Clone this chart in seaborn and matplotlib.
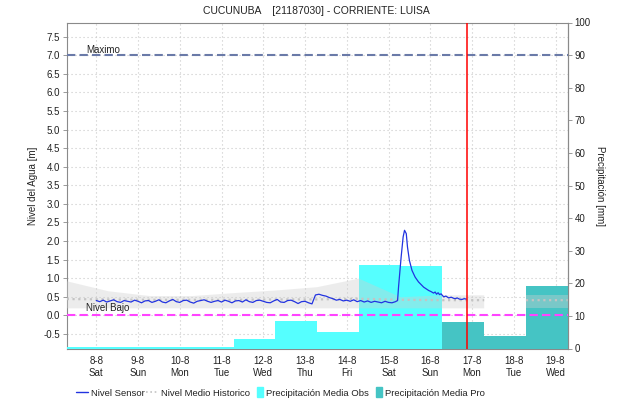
import numpy as np
import pandas as pd
import matplotlib
matplotlib.use("Agg")
import matplotlib.pyplot as plt
import matplotlib.dates as mdates
import matplotlib.patches as mpatches
from matplotlib.lines import Line2D
from matplotlib.legend_handler import HandlerPatch
from matplotlib.ticker import FuncFormatter, FormatStrFormatter
import seaborn as sns

sns.set_style("white")
plt.rcParams["font.family"] = ["Liberation Sans", "DejaVu Sans"]

title = "CUCUNUBA    [21187030] - CORRIENTE: LUISA"

# Daily precipitation, each bar covers 07:00 -> 07:00 of the next day [mm]
obs_start = ["2020-08-07 07:00", "2020-08-08 07:00", "2020-08-09 07:00",
             "2020-08-10 07:00", "2020-08-11 07:00", "2020-08-12 07:00",
             "2020-08-13 07:00", "2020-08-14 07:00", "2020-08-15 07:00"]
obs_mm = [0.4, 0.6, 0.6, 0.6, 3.0, 8.5, 5.1, 25.7, 25.2]
pro_start = ["2020-08-16 07:00", "2020-08-17 07:00", "2020-08-18 07:00"]
pro_mm = [8.2, 3.8, 19.2]

# Water level from the sensor [m]: 2-hourly record from 08-08 00:00,
# then the flood wave of 15-08 at its own timestamps
sensor_start = "2020-08-08 00:00"
sensor_regular = [
    0.40, 0.37, 0.41, 0.36, 0.39, 0.42, 0.37, 0.35, 0.40, 0.38, 0.36, 0.41,
    0.38, 0.34, 0.39, 0.40, 0.35, 0.38, 0.42, 0.36, 0.34, 0.39, 0.43, 0.37,
    0.35, 0.40, 0.41, 0.36, 0.33, 0.38, 0.40, 0.42, 0.38, 0.35, 0.38, 0.40,
    0.36, 0.41, 0.38, 0.34, 0.39, 0.40, 0.36, 0.42, 0.37, 0.35, 0.40, 0.41,
    0.38, 0.35, 0.34, 0.39, 0.43, 0.36, 0.35, 0.40, 0.41, 0.37, 0.32, 0.37,
    0.38, 0.34, 0.31, 0.55, 0.57, 0.54, 0.52, 0.48, 0.45, 0.41, 0.43, 0.39,
    0.41, 0.38, 0.42, 0.37, 0.40, 0.36, 0.39, 0.35, 0.38, 0.36, 0.34, 0.38,
    0.35, 0.34, 0.37,
]
flood_hours = [173.2, 173.75, 175.25, 176.4, 177.2, 178.2, 178.9, 180.0,
               181.5, 183.3, 185.25, 188.2, 191.1, 192.5, 193.9, 194.8,
               195.6, 196.5, 197.3, 198.2, 199.7, 201.0, 202.6, 204.0,
               205.5, 206.4, 207.5, 208.7, 210.25, 211.5, 212.75]
flood_level = [0.40, 0.76, 1.57, 2.11, 2.29, 2.20, 1.84, 1.48,
               1.21, 1.03, 0.90, 0.76, 0.67, 0.64, 0.60, 0.63,
               0.57, 0.61, 0.56, 0.58, 0.50, 0.52, 0.47, 0.49,
               0.46, 0.45, 0.47, 0.44, 0.43, 0.45, 0.44]

# Historical level statistics at 07:00 each day (no record for 17-08 -> 18-08)
hist_time = ["2020-08-07 07:00", "2020-08-08 07:00", "2020-08-09 07:00",
             "2020-08-10 07:00", "2020-08-11 07:00", "2020-08-12 07:00",
             "2020-08-13 07:00", "2020-08-14 07:00", "2020-08-15 07:00",
             "2020-08-16 07:00", "2020-08-17 07:00", "2020-08-17 19:00",
             "2020-08-18 07:00", "2020-08-19 07:00"]
hist_mean = [0.44, 0.43, 0.42, 0.42, 0.42, 0.43, 0.43, 0.45, 0.42, 0.41, 0.41,
             np.nan, 0.41, 0.41]
hist_high = [0.92, 0.65, 0.52, 0.52, 0.60, 0.67, 0.76, 0.99, 0.49, 0.54, 0.54,
             np.nan, 0.55, 0.55]
hist_low = [0.19, 0.19, 0.19, 0.19, 0.19, 0.19, 0.19, 0.19, 0.19, 0.19, 0.19,
            np.nan, 0.19, 0.19]

nivel_maximo = 7.0
nivel_bajo = 0.02
ahora = "2020-08-16 21:00"
x_range = ("2020-08-07 07:00", "2020-08-19 07:00")
level_range = (-0.89, 7.88)
precip_range = (0, 100)

legend_labels = ["Nivel Sensor", "Nivel Medio Historico",
                 "Precipitación Media Obs", "Precipitación Media Pro"]

# ---------------------------------------------------------------------------
num = lambda s: mdates.date2num(pd.to_datetime(s))

sensor_t = pd.Timestamp(sensor_start)
sensor_x = np.concatenate([
    num(sensor_t + pd.to_timedelta(np.arange(len(sensor_regular)) * 2, unit="h")),
    num(sensor_t + pd.to_timedelta(flood_hours, unit="h")),
])
sensor_y = np.array(sensor_regular + flood_level)

c_obs = "#55ffff"
c_pro = "#45c4c4"
c_sensor = "#2233e0"
c_mean = "#c4c4c4"
c_max = "#6a7aa8"
c_bajo = "#ff44ff"
c_spine = "#8a8a8a"
c_text = "#222222"

fig = plt.figure(figsize=(6.31, 4.03), dpi=100)
rect = [66.7 / 631, 1 - 348.5 / 403, 501 / 631, 326 / 403]

ax_bg = fig.add_axes(rect)
ax_bg.set_zorder(1)
ax_p = ax_bg.twinx()
ax_p.set_zorder(2)
ax_p.patch.set_visible(False)
ax_fg = fig.add_axes(rect, sharex=ax_bg, sharey=ax_bg)
ax_fg.set_zorder(3)
ax_fg.patch.set_visible(False)
ax_fg.axis("off")

# precipitation bars
ax_p.bar(num(obs_start), obs_mm, width=1.0, align="edge", color=c_obs,
         linewidth=0)
ax_p.bar(num(pro_start), pro_mm, width=1.0, align="edge", color=c_pro,
         linewidth=0)
ax_p.set_ylim(*precip_range)
ax_p.set_yticks(np.arange(0, 101, 10))

# historical band and mean
hx = num(hist_time)
ax_fg.fill_between(hx, hist_low, hist_high, color="#cfcfcf", alpha=0.38,
                   linewidth=0, zorder=1)
ax_fg.plot(hx, hist_mean, color=c_mean, linewidth=1.6,
           linestyle=(0, (1, 1.6)), zorder=2)

# thresholds
ax_fg.axhline(nivel_maximo, color=c_max, linewidth=1.5, dashes=(4, 2), zorder=3)
ax_fg.axhline(nivel_bajo, color=c_bajo, linewidth=1.5, dashes=(4, 2), zorder=3)
ax_fg.text(num("2020-08-07 18:00"), nivel_maximo + 0.06, "Maximo",
           fontsize=7, color=c_text, va="baseline", ha="left", zorder=6)
ax_fg.text(num("2020-08-07 18:00"), nivel_bajo + 0.09, "Nivel Bajo",
           fontsize=7, color=c_text, va="baseline", ha="left", zorder=6)

# sensor level
sns.lineplot(x=sensor_x, y=sensor_y, ax=ax_fg, color=c_sensor, linewidth=0.9,
             legend=False, zorder=4)

# current time
ax_fg.axvline(num(ahora), color="#ff0000", linewidth=1.1, zorder=5)

# axes, ticks and grid
ax_bg.set_xlim(num(x_range[0]), num(x_range[1]))
ax_bg.set_ylim(*level_range)
ax_bg.set_yticks(np.arange(-0.5, 7.51, 0.5))
ax_bg.yaxis.set_major_formatter(FormatStrFormatter("%.1f"))
ax_bg.xaxis.set_major_locator(mdates.DayLocator())
ax_bg.xaxis.set_minor_locator(mdates.HourLocator())
ax_bg.xaxis.set_major_formatter(FuncFormatter(
    lambda v, pos: mdates.num2date(v).strftime("%-d-%-m\n%a")))
ax_bg.grid(True, which="major", color="#c8c8c8", linewidth=0.8,
           linestyle=(0, (1, 2.6)))

ax_bg.tick_params(axis="y", which="major", length=3, width=0.6, color=c_spine,
                  pad=2, labelsize=7, labelcolor=c_text)
ax_bg.tick_params(axis="x", which="major", length=2, width=0.6, color="#444444",
                  pad=3.5, labelsize=7, labelcolor=c_text)
ax_bg.tick_params(axis="x", which="minor", length=2, width=0.5, color="#333333")
ax_p.tick_params(axis="y", length=3, width=0.6, color=c_spine, pad=2,
                 labelsize=7, labelcolor=c_text)

for ax in (ax_bg, ax_p):
    for side, sp in ax.spines.items():
        sp.set_color(c_spine)
        sp.set_linewidth(0.8)
for side in ("left", "top", "bottom"):
    ax_p.spines[side].set_visible(False)

ax_bg.set_xlabel("")
ax_bg.set_ylabel("Nivel del Agua [m]", fontsize=7, color=c_text)
ax_bg.yaxis.set_label_coords(-0.0563, 0.5)
ax_p.set_ylabel("Precipitación [mm]", fontsize=7, color=c_text,
                rotation=270, va="bottom")
ax_p.yaxis.set_label_coords(1.0545, 0.5)

fig.text(316 / 631, 1 - 11.5 / 403, title, ha="center", va="center",
         fontsize=7.5, color=c_text)

# legend with slim colour boxes for the bar series
def slim_box(legend, orig_handle, xdescent, ydescent, width, height, fontsize):
    w = 0.62 * fontsize
    return mpatches.Rectangle((-xdescent + width - w, -ydescent - 0.15 * fontsize),
                              w, height + 0.3 * fontsize)

handles = [
    Line2D([], [], color=c_sensor, linewidth=1.0),
    Line2D([], [], color=c_mean, linewidth=1.2, linestyle=(0, (1, 1.6))),
    mpatches.Patch(color=c_obs),
    mpatches.Patch(color=c_pro),
]
fig.legend(handles, legend_labels, loc="center left",
           bbox_to_anchor=(76 / 631, 1 - 393 / 403), ncol=4, frameon=False,
           fontsize=6.8, handlelength=1.3, handletextpad=0.3,
           columnspacing=0.1, borderpad=0, borderaxespad=0,
           labelcolor=c_text,
           handler_map={mpatches.Patch: HandlerPatch(patch_func=slim_box)})

fig.savefig("out.png", dpi=100)
